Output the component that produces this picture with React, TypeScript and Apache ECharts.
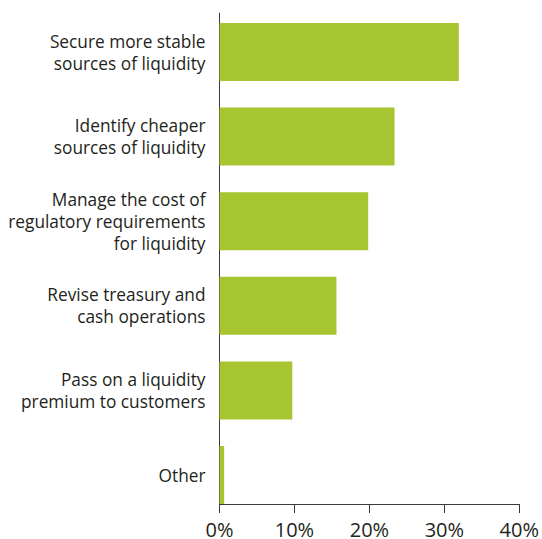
import React, { useEffect, useRef } from "react";
import * as echarts from "echarts";

const categories = [
  "Secure more stable\nsources of liquidity",
  "Identify cheaper\nsources of liquidity",
  "Manage the cost of\nregulatory requirements\nfor liquidity",
  "Revise treasury and\ncash operations",
  "Pass on a liquidity\npremium to customers",
  "Other",
];
const values = [30.9, 22.6, 19.2, 15.1, 9.4, 0.6];
const xTicks = [0, 10, 20, 30, 40];

export default function App() {
  const ref = useRef<HTMLDivElement>(null);
  useEffect(() => {
    if (!ref.current) return;
    const chart = echarts.init(ref.current, undefined, { renderer: "svg" });
    const font = "Open Sans";
    const dark = "#231f20";
    chart.setOption({
      animation: false,
      grid: [
        { left: 219.5, right: 12.7, top: 9.7, height: 507.6, containLabel: false },
        { left: 219.5, right: 12.7, top: 13, height: 496, containLabel: false },
      ],
      xAxis: [
        {
          gridIndex: 0,
          type: "value",
          min: xTicks[0],
          max: xTicks[xTicks.length - 1],
          interval: 10,
          show: false,
        },
        {
          gridIndex: 1,
          type: "value",
          min: xTicks[0],
          max: xTicks[xTicks.length - 1],
          interval: 10,
          axisLine: { show: true, lineStyle: { color: "#3a3a3a", width: 1 } },
          axisTick: { show: true, length: 9, lineStyle: { color: "#3a3a3a" } },
          splitLine: { show: false },
          axisLabel: {
            formatter: "{value}%",
            fontFamily: font,
            fontSize: 20,
            fontWeight: 500,
            color: dark,
            margin: 15,
          },
        },
      ],
      yAxis: [
        {
          gridIndex: 0,
          type: "category",
          data: categories,
          inverse: true,
          axisLine: { show: false },
          axisTick: { show: false },
          axisLabel: {
            fontFamily: font,
            fontSize: 17.3,
            fontWeight: 500,
            lineHeight: 22,
            color: dark,
            align: "right",
            margin: 14,
            padding: [0, 0, 5, 0],
          },
        },
        {
          gridIndex: 1,
          type: "category",
          data: categories,
          inverse: true,
          axisLine: { show: true, lineStyle: { color: "#3a3a3a", width: 1 } },
          axisTick: { show: false },
          axisLabel: { show: false },
        },
      ],
      series: [
        {
          type: "bar",
          xAxisIndex: 0,
          yAxisIndex: 0,
          data: values,
          barWidth: 58,
          itemStyle: { color: "#a6c531" },
        },
      ],
    });
    return () => chart.dispose();
  }, []);
  return <div ref={ref} style={{ width: 542, height: 539, position: "absolute", left: 0, top: 0 }} />;
}
